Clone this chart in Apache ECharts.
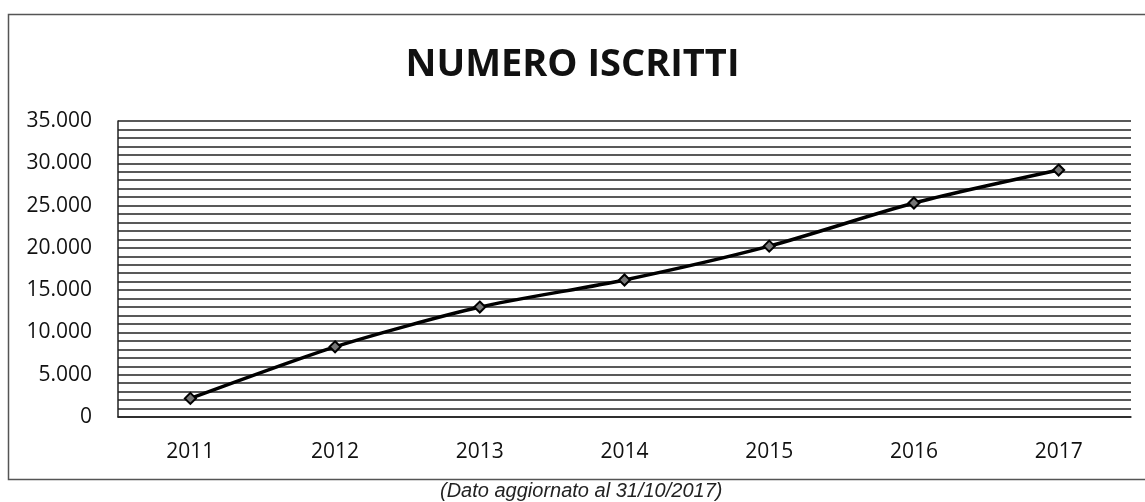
<!DOCTYPE html>
<html>
<head>
<meta charset="utf-8">
<title>Numero iscritti</title>
<script src="https://cdn.jsdelivr.net/npm/echarts@6/dist/echarts.min.js"></script>
<style>
  html, body { margin: 0; padding: 0; background: #fff; }
  #chart { width: 1145px; height: 502px; }
</style>
</head>
<body>
<div id="chart"></div>
<script>
// anni e numero di iscritti
const years = ['2011', '2012', '2013', '2014', '2015', '2016', '2017']
const iscritti = [2200, 8300, 13000, 16200, 20200, 25300, 29200]
const yLabelStep = 5000 // etichette ogni 5.000, linee ogni 1.000

const fmt = v => v.toString().replace(/\B(?=(\d{3})+(?!\d))/g, '.')

const myChart = echarts.init(document.getElementById('chart'))

const option = {
  animation: false,
  title: {
    text: 'NUMERO ISCRITTI',
    left: 'center',
    top: 41,
    textStyle: { fontFamily: 'Open Sans', fontWeight: 'bold', fontSize: 38, color: '#111' }
  },
  graphic: [
    {
      type: 'rect',
      shape: { x: 8.5, y: 14.5, width: 1140, height: 465 },
      style: { fill: 'none', stroke: '#555', lineWidth: 1.5 }
    },
    {
      // nota sotto il riquadro
      type: 'text',
      left: 440,
      top: 481,
      style: {
        text: '(Dato aggiornato al 31/10/2017)',
        font: 'italic 20px "Liberation Sans"',
        fill: '#222'
      }
    }
  ],
  grid: { left: 118, right: 14, top: 121, bottom: 85 },
  xAxis: {
    type: 'category',
    data: years,
    axisTick: { show: false },
    axisLine: { lineStyle: { color: '#222', width: 1.5 } },
    axisLabel: { color: '#111', fontSize: 21, fontFamily: 'Open Sans', margin: 25 }
  },
  yAxis: {
    type: 'value',
    min: 0,
    max: 35000,
    interval: 1000,
    axisLine: { show: true, lineStyle: { color: '#222', width: 1.5 } },
    axisTick: { show: false },
    axisLabel: {
      color: '#111',
      fontSize: 21,
      fontFamily: 'Open Sans',
      margin: 26,
      formatter: v => (v % yLabelStep === 0 ? fmt(v) : '')
    },
    splitLine: { lineStyle: { color: '#222', width: 1.5 } }
  },
  series: [
    {
      name: 'Iscritti',
      type: 'line',
      data: iscritti,
      smooth: 0.25,
      symbol: 'diamond',
      symbolSize: 11,
      lineStyle: { color: '#000', width: 3.5 },
      itemStyle: { color: '#777', borderColor: '#000', borderWidth: 2 }
    }
  ]
}

myChart.setOption(option)
</script>
</body>
</html>
